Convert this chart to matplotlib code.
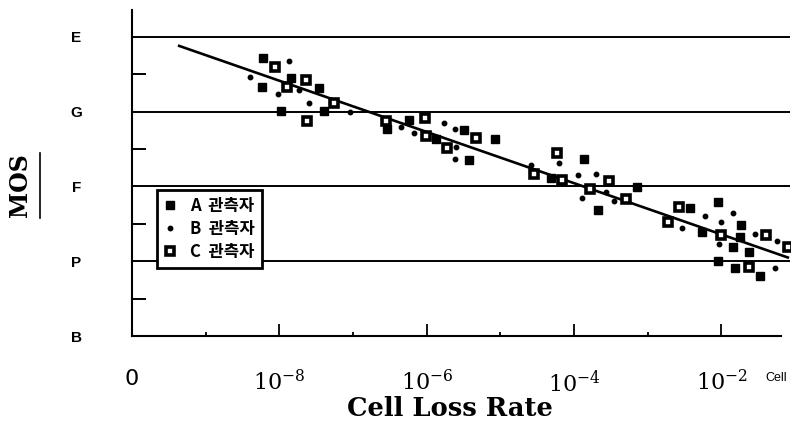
import matplotlib
matplotlib.use('Agg')
import matplotlib.pyplot as plt
from matplotlib.lines import Line2D

plt.rcParams['mathtext.fontset'] = 'dejavuserif'

# log10(cell loss rate) and MOS score (B=1 ... E=5) for three observers
a_x = [-8.22, -8.23, -7.84, -7.46, -7.98, -7.40, -6.54, -6.24, -5.88, -5.49, -5.42, -5.08,
       -3.86, -4.31, -3.68, -3.14, -2.43, -2.05, -2.27, -1.73, -1.75, -1.85, -1.63, -2.05,
       -1.82, -1.48]
a_y = [4.72, 4.33, 4.45, 4.32, 4.01, 4.01, 3.77, 3.89, 3.64, 3.76, 3.35, 3.64,
       3.37, 3.11, 2.68, 2.99, 2.71, 2.79, 2.39, 2.48, 2.32, 2.19, 2.13, 2.00,
       1.91, 1.80]

b_x = [-7.87, -8.40, -7.73, -8.02, -7.60, -7.04, -6.35, -6.17, -5.76, -5.61, -5.60, -5.61,
       -4.21, -4.58, -3.95, -3.70, -3.89, -3.57, -3.46, -2.54, -2.23, -1.85, -2.01, -1.55,
       -2.04, -1.25, -1.28]
b_y = [4.68, 4.47, 4.29, 4.23, 4.11, 3.99, 3.80, 3.72, 3.85, 3.77, 3.53, 3.37,
       3.31, 3.29, 3.15, 3.17, 2.85, 2.93, 2.81, 2.45, 2.61, 2.64, 2.53, 2.37,
       2.23, 2.27, 1.91]

c_x = [-8.06, -7.89, -7.64, -7.26, -7.62, -6.55, -6.03, -6.01, -5.72, -5.33, -4.23, -4.55,
       -4.16, -3.79, -3.52, -3.29, -2.57, -2.73, -2.01, -1.40, -1.10, -1.63]
c_y = [4.60, 4.33, 4.43, 4.12, 3.88, 3.88, 3.91, 3.68, 3.52, 3.65, 3.45, 3.16,
       3.08, 2.96, 3.07, 2.83, 2.73, 2.52, 2.35, 2.35, 2.19, 1.92]

# regression line end points
fit_x = [-9.36, -1.10]
fit_y = [4.88, 2.05]

mos_levels = [1, 2, 3, 4, 5]
mos_labels = ['B', 'P', 'F', 'G', 'E']
x_ticks = [-10, -8, -6, -4, -2]
x_labels = ['0', r'$10^{-8}$', r'$10^{-6}$', r'$10^{-4}$', r'$10^{-2}$']

fig = plt.figure(figsize=(7.99, 4.28), dpi=100)
ax = fig.add_axes([132 / 799, 1 - 336 / 428, 658 / 799, 326 / 428])

ax.set_xlim(-10, -1.07)
ax.set_ylim(1, 5.36)

for lev in mos_levels[1:]:
    ax.axhline(lev, color='black', lw=1.4, zorder=1)

ax.plot(fit_x, fit_y, color='black', lw=1.9, zorder=2)

ax.plot(a_x, a_y, 's', color='black', ms=5.5, zorder=3, label='A  관측자')
ax.plot(b_x, b_y, 'o', color='black', ms=3.2, zorder=3, label='B  관측자')
ax.plot(c_x, c_y, 's', mfc='white', mec='black', mew=2.6, ms=6.2, zorder=3, label='C  관측자')

for side in ['top', 'right']:
    ax.spines[side].set_visible(False)
ax.spines['left'].set_linewidth(1.5)
ax.spines['bottom'].set_linewidth(1.5)
ax.spines['bottom'].set_bounds(-10, -1.19)

ax.set_yticks(mos_levels)
ax.set_yticklabels(mos_labels, fontsize=11, fontweight='bold', family='Liberation Sans', ha='center')
ax.set_yticks([1.5, 2.5, 3.5, 4.5], minor=True)
ax.tick_params(axis='y', which='major', length=0, pad=40)
ax.tick_params(axis='y', which='minor', direction='in', length=10, width=1.4)

ax.set_xticks(x_ticks)
ax.set_xticklabels(x_labels, fontsize=16)
ax.set_xticks([-9, -7, -5, -3], minor=True)
ax.tick_params(axis='x', which='major', direction='in', length=9, width=1.3, pad=24)
ax.tick_params(axis='x', which='minor', direction='in', length=3, width=1.3)

ax.text(0.995, -0.13, 'Cell', transform=ax.transAxes, fontsize=9, family='Liberation Sans',
        ha='right', va='center')

fig.text(450 / 799, 1 - 408 / 428, 'Cell Loss Rate', fontsize=18.5, fontweight='bold',
         family='DejaVu Serif', ha='center', va='center')
fig.text(20 / 799, 1 - 185 / 428, 'MOS', fontsize=17, fontweight='bold',
         family='DejaVu Serif', rotation=90, ha='center', va='center')
fig.add_artist(Line2D([40 / 799, 40 / 799], [1 - 218 / 428, 1 - 153 / 428], color='black', lw=1.2))

leg = ax.legend(loc='lower left', bbox_to_anchor=(0.038, 0.21), borderaxespad=0,
                fancybox=False, framealpha=1, edgecolor='black', handlelength=0.8,
                handletextpad=0.8, borderpad=0.4, labelspacing=0.3,
                prop={'family': ['Noto Sans CJK KR'], 'weight': 'bold', 'size': 12})
leg.get_frame().set_linewidth(2)

fig.savefig('out.png', dpi=100)
